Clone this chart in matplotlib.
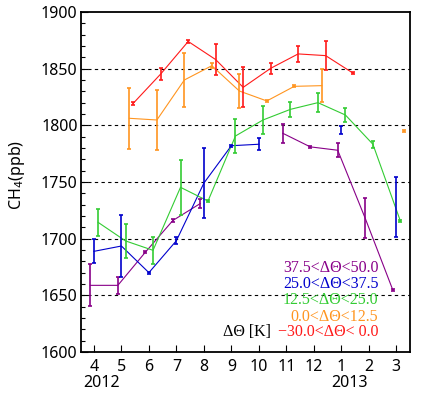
import numpy as np
import matplotlib
matplotlib.use("Agg")
import matplotlib.pyplot as plt
from matplotlib.ticker import MultipleLocator

nan = np.nan
months = np.arange(4, 16)
month_labels = ['4', '5', '6', '7', '8', '9', '10', '11', '12', '1', '2', '3']

purple_v = [1658.8, 1658.8, 1688, 1716, 1731, nan, nan, 1793, 1781, 1778, 1718, 1655]
purple_e = [18.4, 7.2, 1, 1, 4.3, nan, nan, 8.2, 1, 6.2, 17.6, 1]
blue_v = [1688.8, 1693.5, 1670, 1698.2, 1749, 1782, 1783.3, nan, nan, 1795.9, nan, 1728]
blue_e = [10.6, 27, 1, 3.2, 31, 1, 5.5, nan, nan, 3.4, nan, 26.3]
green_v = [1714.4, 1698, 1689.7, 1745.3, 1733.2, 1790.6, 1804.7, 1814.1, 1820, 1809.1, 1783.3, 1715.6]
green_e = [12, 15, 12, 24, 1, 14.7, 12.6, 6.5, 8.4, 6.6, 3, 1]
orange_v = [nan, 1806.2, 1804.7, 1840, 1852.6, 1830.3, 1821.5, 1834.4, 1835, nan, nan, 1795.3]
orange_e = [nan, 26.8, 26.5, 23.8, 2, 14.7, 1, 1, 14.7, nan, nan, 1]
red_v = [nan, 1819.4, 1845.3, 1874, 1858, 1833.5, 1850.3, 1863, 1861.5, 1846, nan, nan]
red_e = [nan, 1.5, 5, 1, 14, 17.6, 5, 7, 13, 1, nan, nan]

labels = ['37.5<ΔΘ<50.0', '25.0<ΔΘ<37.5', '12.5<ΔΘ<25.0', '0.0<ΔΘ<12.5', '\u221230.0<ΔΘ< 0.0']

series = [
    (purple_v, purple_e, '#880088', -0.13),
    (blue_v, blue_e, '#0000CC', 0.0),
    (green_v, green_e, '#33CC33', 0.15),
    (orange_v, orange_e, '#FF9520', 0.29),
    (red_v, red_e, '#FF1A1A', 0.43),
]

plt.rcParams['font.family'] = ['Noto Sans', 'DejaVu Sans']
fig = plt.figure(figsize=(4.42, 3.97), dpi=100)
ax = fig.add_axes([0.1833, 0.1134, 0.7443, 0.8564])

for v, e, c, off in series:
    x = months + off
    ax.plot(x, v, color=c, lw=0.8, zorder=3)
    ax.errorbar(x, v, yerr=e, fmt='none', ecolor=c, elinewidth=1.2,
                capsize=1.6, capthick=1.2, zorder=4)

for yv in [1650, 1700, 1750, 1800, 1850]:
    ax.axhline(yv, color='black', lw=0.8, ls=(0, (3, 3)), zorder=1)

ax.set_xlim(3.53, 15.5)
ax.set_ylim(1600, 1900)
ax.set_xticks(months)
ax.set_xticklabels(month_labels)
ax.yaxis.set_major_locator(MultipleLocator(50))
ax.yaxis.set_minor_locator(MultipleLocator(10))
ax.tick_params(axis='both', which='both', direction='in', top=False, right=False,
               labelsize=11.5, width=0.8, color='black')
ax.tick_params(axis='x', which='major', length=5, pad=5)
ax.tick_params(axis='y', which='major', length=5, pad=2.5)
ax.tick_params(axis='y', which='minor', length=3)
for s in ax.spines.values():
    s.set_linewidth(1.3)

ax.set_ylabel('CH$_4$(ppb)', fontsize=11.5)
ax.yaxis.set_label_coords(-0.165, 0.52)

ax.text(0.063, -0.091, '2012', transform=ax.transAxes, ha='center', va='center', fontsize=11.5)
ax.text(0.8176, -0.091, '2013', transform=ax.transAxes, ha='center', va='center', fontsize=11.5)

ys = [0.246, 0.2, 0.153, 0.104, 0.0597]
for (v, e, c, off), lab, yy in zip(series, labels, ys):
    ax.text(0.9036, yy, lab, transform=ax.transAxes, ha='right', va='center',
            color=c, fontsize=11.5, family=['Liberation Serif', 'DejaVu Serif'], zorder=5)
ax.text(0.5766, 0.0597, 'ΔΘ [K]', transform=ax.transAxes, ha='right', va='center',
        color='black', fontsize=11.5, family=['Liberation Serif', 'DejaVu Serif'])

fig.savefig('out.png', dpi=100)
